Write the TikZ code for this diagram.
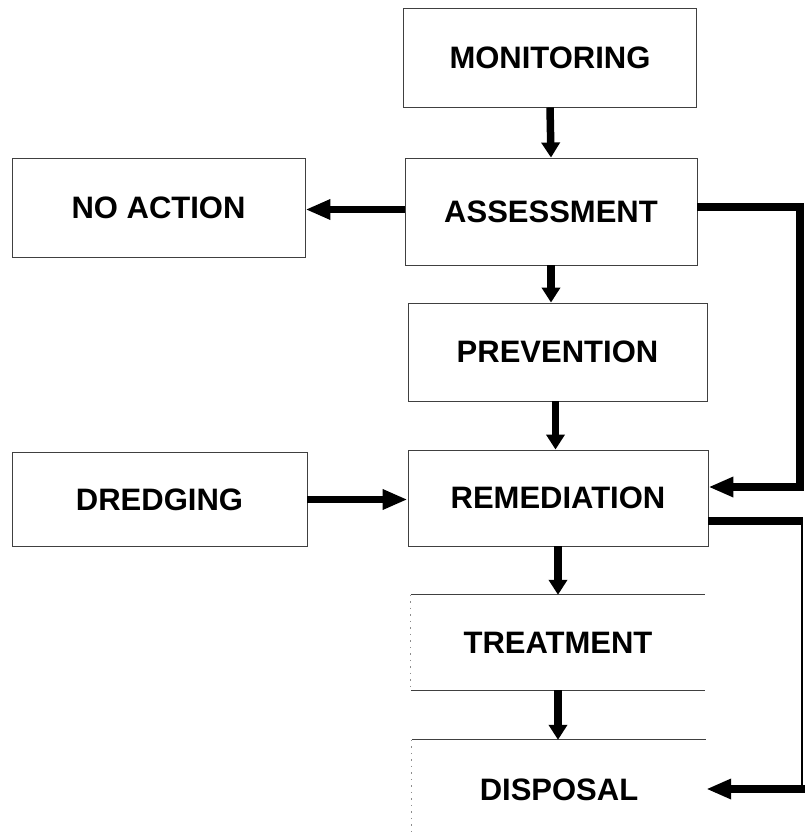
\documentclass[tikz,border=0pt]{standalone}
\usepackage{fontspec}
\setmainfont{Liberation Sans}
\usetikzlibrary{arrows.meta,calc}
\begin{document}
\begin{tikzpicture}[x=1pt,y=-1pt,
  box/.style={draw=black!75,line width=0.9pt,inner sep=0pt,
    font=\fontsize{31}{36}\selectfont\bfseries},
  openbox/.style={inner sep=0pt,font=\fontsize{31}{36}\selectfont\bfseries},
  edge/.style={draw=black!75,line width=0.9pt},
  faint/.style={draw=black!45,line width=0.8pt,dash pattern=on 1.5pt off 5pt},
  vflow/.style={line width=7.5pt,-{Triangle[length=15pt,width=18pt]}},
  hflow/.style={line width=7.5pt,-{Triangle[length=25pt,width=19pt]}},
  thickline/.style={line width=7.5pt},
  thinline/.style={line width=1.8pt}]
\useasboundingbox (0,0) rectangle (805,835);
\fill[white] (0,0) rectangle (805,835);

\node[box,minimum width=293pt,minimum height=99pt] (mon) at (550,57.5) {MONITORING};
\node[box,minimum width=292pt,minimum height=107pt] (ass) at (551,211.5) {ASSESSMENT};
\node[box,minimum width=293pt,minimum height=99pt] (noact) at (158.5,207.5) {NO ACTION};
\node[box,minimum width=299pt,minimum height=98pt] (prev) at (557.5,352) {PREVENTION};
\node[box,minimum width=300pt,minimum height=96pt] (rem) at (558,498) {REMEDIATION};
\node[box,minimum width=295pt,minimum height=94pt] (dred) at (159.5,499.5) {DREDGING};
\node[openbox,minimum width=294pt,minimum height=95pt] (treat) at (558,642.5) {TREATMENT};
\node[openbox,minimum width=294pt,minimum height=100pt] (disp) at (559,790) {DISPOSAL};

% open box edges
\draw[edge] (treat.north west) -- (treat.north east);
\draw[edge] (treat.south west) -- (treat.south east);
\draw[faint] (treat.north west) -- (treat.south west);
\draw[edge] (disp.north west) -- (disp.north east);
\draw[faint] (disp.north west) -- (disp.south west);

% main flow
\draw[vflow] (mon.south) -- (ass.north);
\draw[vflow] (ass.south) -- (ass.south |- prev.north);
\draw[vflow] ($(prev.south)+(-2,0)$) -- ($(prev.south |- rem.north)+(-2,0)$);
\draw[vflow] (rem.south) -- (rem.south |- treat.north);
\draw[vflow] (treat.south) -- (treat.south |- disp.north);
\draw[hflow] ($(ass.west)+(0,-2)$) -- ($(noact.east)+(0,2)$);
\draw[hflow] (dred.east) -- (dred.east -| rem.west);

% feedback loops
\coordinate (r1) at (800,207);
\coordinate (r2) at (800,487);
\coordinate (r3) at (803,521);
\coordinate (r4) at (802,789);
\draw[thickline] (ass.east |- r1) -- (r1) -- (r2) -- ($(r2)+(-10,0)$);
\draw[hflow] ($(r2)+(3.75,0)$) -- (rem.east |- r2);
\draw[thickline] (rem.east |- r3) -- (r3);
\draw[thinline] ($(r3)+(-1,0)$) -- ($(r4)+(0,-3)$);
\draw[hflow] ($(r4)+(3,0)$) -- (disp.east |- r4);
\end{tikzpicture}
\end{document}
